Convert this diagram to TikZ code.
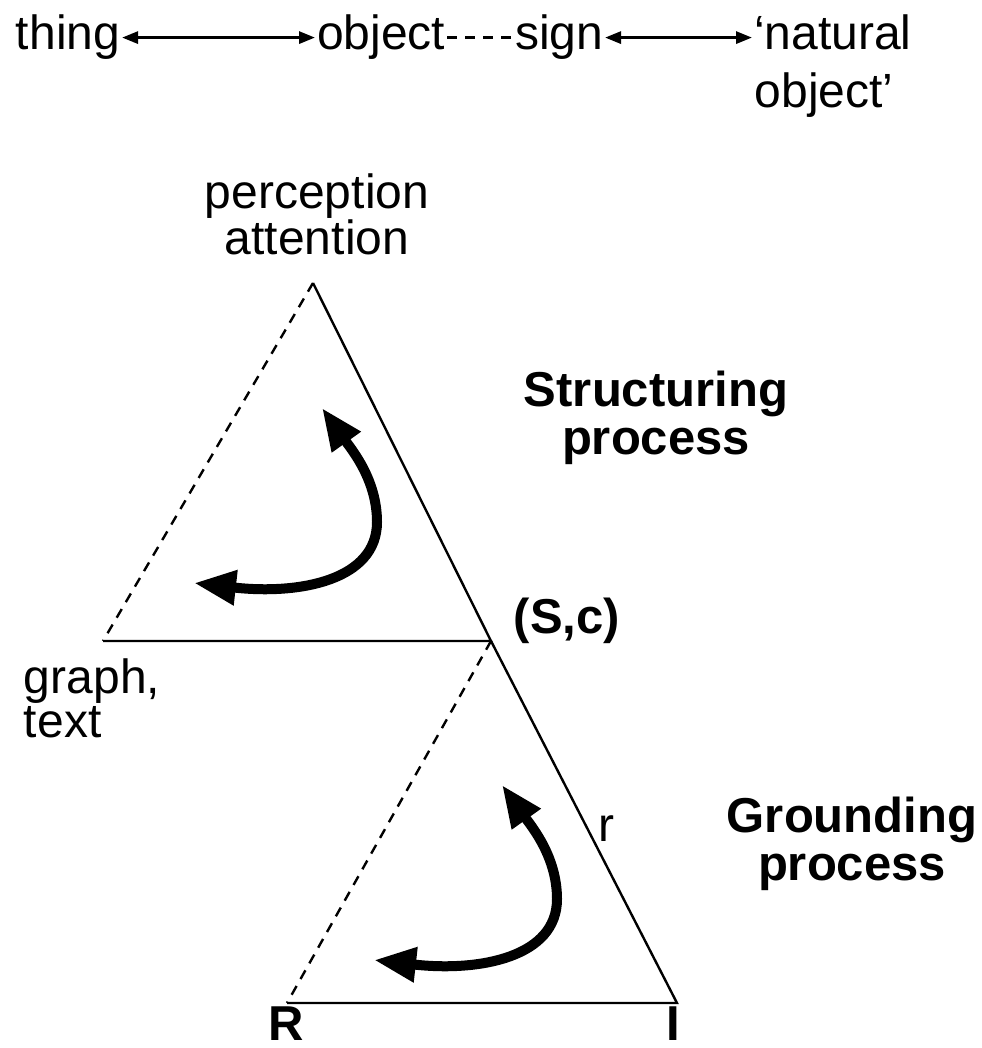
\documentclass[tikz,border=0pt]{standalone}
\usepackage{fontspec}
\setmainfont{Liberation Sans}
\usetikzlibrary{arrows.meta, positioning}
\tikzset{
  every picture/.style={line width=1.2pt},
  lbl/.style={font=\fontsize{24}{26}\selectfont, inner sep=0pt, outer sep=1pt},
  blbl/.style={lbl, font=\fontsize{24.5}{26}\selectfont\bfseries},
  link/.style={{Triangle[length=8pt, width=6pt]}-{Triangle[length=8pt, width=6pt]}, line width=1.5pt},
  curl/.style={{Triangle[length=21pt, width=16.5pt]}-{Triangle[length=21pt, width=16.5pt]}, line width=5pt},
  side/.style={dash pattern=on 5pt off 4pt},
}

\begin{document}
\begin{tikzpicture}[x=0.5pt, y=-0.5pt]
  \useasboundingbox (0,0) rectangle (981,1048);
  \node[lbl, anchor=base west] (thing) at (14,50) {thing};
  \node[lbl, anchor=base west] (object) at (315,50) {object};
  \node[lbl, anchor=base west] (sign) at (513,50) {sign};
  \node[lbl, anchor=base west] (nat) at (752,50) {‘natural};
  \node[lbl, anchor=base] (natb) at (824,108) {object’};
  \draw[link] (thing) -- (object);
  \draw[side, line width=1.5pt] (object) -- (sign);
  \draw[link] (sign.east) -- (sign.east -| nat.west);

  \coordinate (apex) at (313,283);
  \coordinate (sc) at (491,641);
  \coordinate (gl) at (103,641);
  \coordinate (rl) at (287,1003);
  \coordinate (ir) at (677,1003);
  \draw[side] (apex) -- (gl);
  \draw (gl) -- (sc) -- (apex);
  \draw[side] (sc) -- (rl);
  \draw (sc) -- (ir) -- (rl);

  \foreach \sx/\sy in {0/0, 180/377}
    \draw[curl, shift={(\sx,\sy)}] (194,583) .. controls (300,595) and (377,580) .. (377,522)
      .. controls (377,480) and (352,450) .. (322,408);

  \node[lbl, anchor=base] (perc) at (317,208) {perception};
  \node[lbl, anchor=base] (att) at (317,255) {attention};
  \node[blbl, anchor=base] (struct) at (656,406) {Structuring};
  \node[blbl, anchor=base] (sproc) at (656,454) {process};
  \node[blbl, anchor=base] (sc-lbl) at (567,633) {(S,c)};
  \node[lbl, anchor=base west] (graph) at (22,693) {graph,};
  \node[lbl, anchor=base west] (text) at (22,737) {text};
  \node[blbl, anchor=base] (ground) at (852,832) {Grounding};
  \node[blbl, anchor=base] (gproc) at (852,880) {process};
  \node[lbl, anchor=base] (r) at (606,841) {r};
  \node[blbl, anchor=base] (R) at (286,1040) {R};
  \node[blbl, anchor=base] (I) at (673,1040) {I};
\end{tikzpicture}
\end{document}
